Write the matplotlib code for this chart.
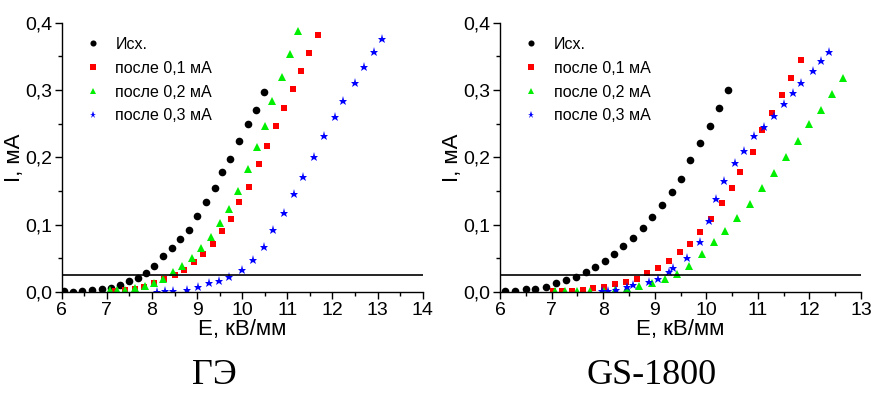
import matplotlib
matplotlib.use("Agg")
import matplotlib.pyplot as plt
from matplotlib.ticker import MultipleLocator, FuncFormatter

plt.rcParams['font.family'] = ['Liberation Sans', 'DejaVu Sans']

# ---- left panel (ГЭ) ----
ge_isx_x = [6.06, 6.24, 6.46, 6.67, 6.89, 7.09, 7.29, 7.49, 7.68, 7.86, 8.05, 8.24,
            8.44, 8.63, 8.81, 9.00, 9.19, 9.39, 9.56, 9.73, 9.93, 10.12, 10.30, 10.49]
ge_isx_y = [0.0015, 0.0005, 0.0015, 0.003, 0.004, 0.0064, 0.011, 0.016, 0.021, 0.028, 0.038, 0.054,
            0.066, 0.079, 0.092, 0.113, 0.133, 0.154, 0.178, 0.197, 0.224, 0.250, 0.271, 0.297]

ge_01_x = [7.18, 7.40, 7.62, 7.83, 8.05, 8.27, 8.50, 8.71, 8.93, 9.13, 9.35, 9.55,
           9.75, 9.94, 10.15, 10.37, 10.55, 10.74, 10.93, 11.12, 11.31, 11.48, 11.68]
ge_01_y = [0.002, 0.003, 0.005, 0.008, 0.013, 0.019, 0.025, 0.032, 0.044, 0.056, 0.072, 0.090,
           0.108, 0.134, 0.156, 0.190, 0.217, 0.246, 0.273, 0.302, 0.328, 0.355, 0.382]

ge_02_x = [7.07, 7.22, 7.40, 7.63, 7.85, 8.05, 8.25, 8.46, 8.67, 8.88, 9.09, 9.30,
           9.51, 9.71, 9.90, 10.12, 10.32, 10.51, 10.67, 10.88, 11.06, 11.23]
ge_02_y = [0.0025, 0.0025, 0.003, 0.0064, 0.0094, 0.014, 0.019, 0.029, 0.039, 0.051, 0.066, 0.082,
           0.103, 0.124, 0.150, 0.182, 0.216, 0.247, 0.283, 0.319, 0.354, 0.387]

ge_03_x = [8.11, 8.28, 8.47, 8.77, 9.03, 9.27, 9.49, 9.71, 10.00, 10.24, 10.48, 10.69,
           10.93, 11.14, 11.35, 11.59, 11.82, 12.05, 12.23, 12.49, 12.70, 12.91, 13.10]
ge_03_y = [0.0005, 0.001, 0.002, 0.0025, 0.007, 0.013, 0.016, 0.023, 0.032, 0.047, 0.067, 0.092,
           0.118, 0.145, 0.171, 0.201, 0.231, 0.260, 0.283, 0.311, 0.334, 0.357, 0.376]

# ---- right panel (GS-1800) ----
gs_isx_x = [6.10, 6.29, 6.50, 6.68, 6.89, 7.09, 7.28, 7.47, 7.66, 7.84, 8.04, 8.22,
            8.39, 8.57, 8.77, 8.95, 9.15, 9.33, 9.51, 9.69, 9.88, 10.07, 10.25, 10.43]
gs_isx_y = [0.0015, 0.002, 0.004, 0.005, 0.008, 0.013, 0.018, 0.023, 0.029, 0.037, 0.046, 0.057,
            0.068, 0.080, 0.095, 0.112, 0.129, 0.148, 0.168, 0.196, 0.221, 0.247, 0.273, 0.300]

gs_01_x = [7.03, 7.21, 7.40, 7.60, 7.81, 8.02, 8.23, 8.44, 8.65, 8.86, 9.07, 9.28,
           9.49, 9.68, 9.88, 10.10, 10.30, 10.49, 10.65, 10.90, 11.09, 11.28, 11.46, 11.64, 11.84]
gs_01_y = [0.001, 0.002, 0.002, 0.003, 0.006, 0.008, 0.012, 0.015, 0.019, 0.028, 0.035, 0.046,
           0.059, 0.072, 0.089, 0.109, 0.132, 0.154, 0.178, 0.208, 0.241, 0.266, 0.292, 0.318, 0.345]

gs_02_x = [7.07, 7.26, 7.49, 7.75, 8.02, 8.23, 8.46, 8.70, 8.94, 9.19, 9.43, 9.66,
           9.91, 10.14, 10.37, 10.59, 10.84, 11.08, 11.31, 11.55, 11.78, 12.00, 12.22, 12.44, 12.66]
gs_02_y = [0.001, 0.001, 0.002, 0.002, 0.0015, 0.003, 0.0055, 0.0094, 0.013, 0.019, 0.027, 0.039,
           0.056, 0.074, 0.091, 0.110, 0.130, 0.155, 0.177, 0.201, 0.224, 0.249, 0.271, 0.294, 0.318]

gs_03_x = [7.97, 8.10, 8.25, 8.47, 8.57, 8.88, 9.07, 9.28, 9.36, 9.63, 9.87, 10.06,
           10.18, 10.34, 10.56, 10.74, 10.93, 11.12, 11.32, 11.51, 11.69, 11.84, 12.06, 12.22, 12.37]
gs_03_y = [0.0015, 0.002, 0.003, 0.008, 0.011, 0.015, 0.020, 0.029, 0.035, 0.050, 0.074, 0.105,
           0.138, 0.165, 0.192, 0.210, 0.231, 0.245, 0.262, 0.279, 0.295, 0.311, 0.328, 0.343, 0.357]

labels = ['Исх.', 'после 0,1 мА', 'после 0,2 мА', 'после 0,3 мА']
threshold = 0.025

fig = plt.figure(figsize=(8.71, 3.94), dpi=100)
ax1 = fig.add_axes([61.7 / 871, 102 / 394, 361 / 871, 269.3 / 394])
ax2 = fig.add_axes([500 / 871, 102 / 394, 361 / 871, 269.3 / 394])

comma = FuncFormatter(lambda v, p: ('%.1f' % v).replace('.', ','))


def draw(ax, series, xmax):
    styles = [('o', 'black', 5.5), ('s', 'red', 5), ('^', '#00ee00', 6), ('*', 'blue', 6.5)]
    for (x, y), (m, c, ms), lab in zip(series, styles, labels):
        ax.plot(x, y, linestyle='none', marker=m, color=c, markersize=ms,
                markeredgewidth=0, label=lab)
    ax.axhline(threshold, color='black', lw=1.2)
    ax.set_xlim(6, xmax)
    ax.set_ylim(0, 0.4)
    ax.xaxis.set_major_locator(MultipleLocator(1))
    ax.xaxis.set_minor_locator(MultipleLocator(0.5))
    ax.yaxis.set_major_locator(MultipleLocator(0.1))
    ax.yaxis.set_minor_locator(MultipleLocator(0.05))
    ax.yaxis.set_major_formatter(comma)
    ax.spines['top'].set_visible(False)
    ax.spines['right'].set_visible(False)
    for s in ('left', 'bottom'):
        ax.spines[s].set_linewidth(1.0)
    ax.tick_params(which='major', length=5, width=1, labelsize=14, colors='black')
    ax.tick_params(which='minor', length=3, width=1)
    ax.tick_params(axis='x', pad=2)
    ax.tick_params(axis='y', pad=2)
    ax.set_xlabel('E, кВ/мм', fontsize=16, labelpad=0)
    ax.set_ylabel('I, мА', fontsize=16, labelpad=0)
    ax.legend(loc='upper left', bbox_to_anchor=(0.025, 1.0), frameon=False, fontsize=11.5,
              handlelength=1.0, handletextpad=0.9, labelspacing=0.55, markerscale=0.8)


draw(ax1, [(ge_isx_x, ge_isx_y), (ge_01_x, ge_01_y), (ge_02_x, ge_02_y), (ge_03_x, ge_03_y)], 14)
draw(ax2, [(gs_isx_x, gs_isx_y), (gs_01_x, gs_01_y), (gs_02_x, gs_02_y), (gs_03_x, gs_03_y)], 13)

fig.text(214 / 871, 1 - 375 / 394, 'ГЭ', fontsize=26, family='Liberation Serif',
         ha='center', va='center')
fig.text(652 / 871, 1 - 375 / 394, 'GS-1800', fontsize=26, family='Liberation Serif',
         ha='center', va='center')

fig.savefig('out.png', dpi=100)
